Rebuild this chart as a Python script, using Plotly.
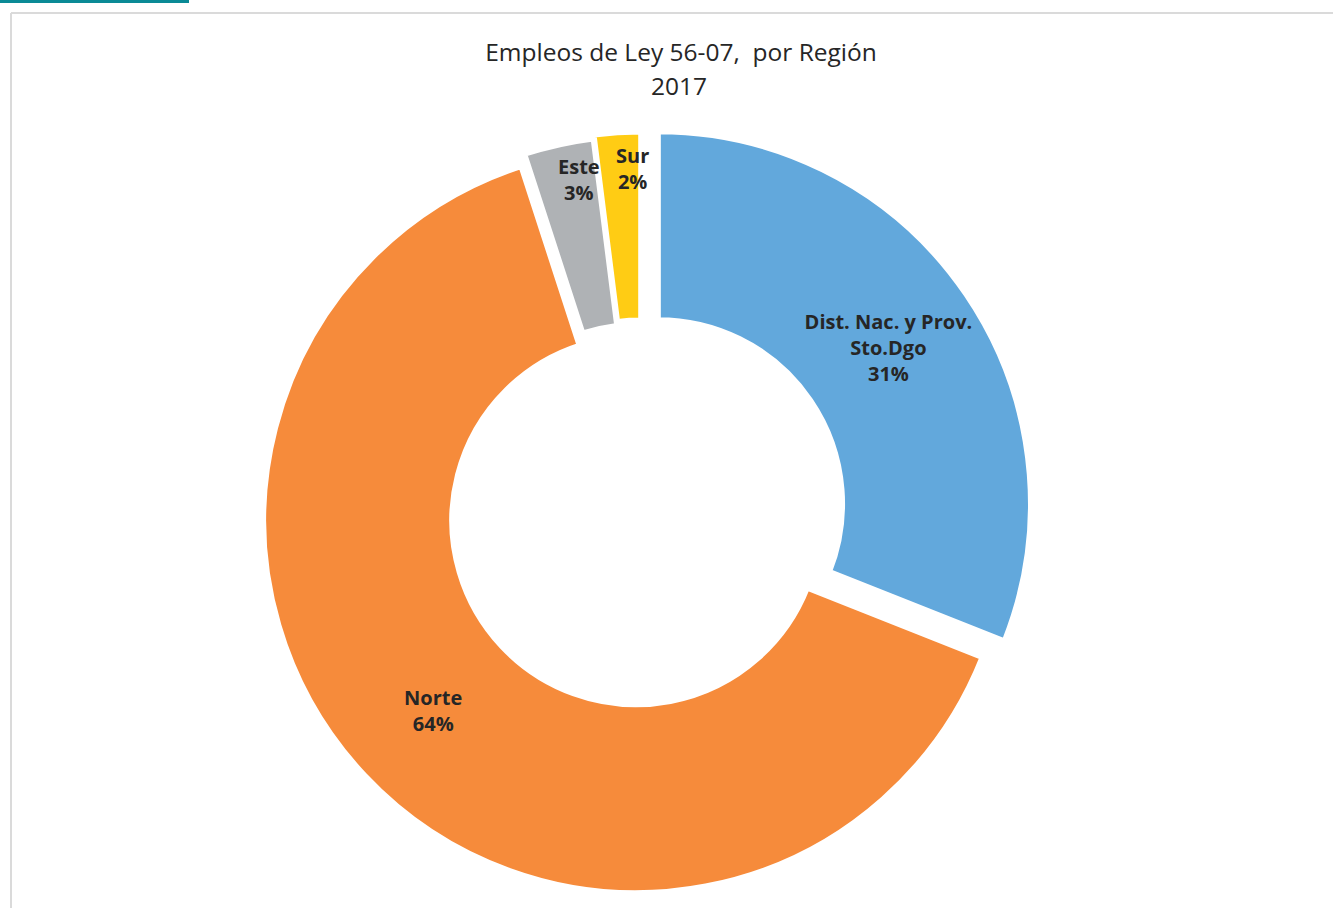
import math
import plotly.graph_objects as go

# ---- data ----
regions = ["Dist. Nac. y Prov.<br>Sto.Dgo", "Norte", "Este", "Sur"]
shares = [31, 64, 3, 2]
colors = ["#62A8DC", "#F68B3B", "#AFB2B5", "#FFCC14"]
pulls = [0.055, 0.02, 0.02, 0.03]
title_line1 = "Empleos de Ley 56-07,\u00a0 por Región"
title_line2 = "2017"

W, H = 1333, 908
TEXT_COLOR = "#262626"
FONT = "Open Sans"

# pie domain (paper coords, margins are zero)
dom_x = [0.18665, 0.77570]
dom_y = [0.0, 0.8648]

inside = ["inside", "inside", "none", "none"]

fig = go.Figure()
fig.add_trace(go.Pie(
    labels=regions,
    values=shares,
    sort=False,
    direction="clockwise",
    rotation=0,
    hole=0.495,
    pull=pulls,
    marker=dict(colors=colors, line=dict(color="white", width=5)),
    texttemplate="<b>%{label}<br>%{percent:.0%}</b>",
    textposition=inside,
    insidetextorientation="horizontal",
    textfont=dict(family=FONT, size=20, color=TEXT_COLOR),
    hoverinfo="label+percent",
    showlegend=False,
    domain=dict(x=dom_x, y=dom_y),
))

# geometry of the pie in pixels (as plotly computes it)
avail_w = W * (dom_x[1] - dom_x[0])
avail_h = H * (dom_y[1] - dom_y[0])
R = min(avail_w, avail_h) / 2 / (1 + max(pulls))
CX = W * (dom_x[0] + dom_x[1]) / 2
CY = H * (1 - dom_y[0]) - avail_h / 2

total = sum(shares)
annotations = []
cum = 0
for lab, v, p, pos in zip(regions, shares, pulls, inside):
    mid = (cum + v / 2) / total
    cum += v
    if pos != "none":
        continue
    th = 2 * math.pi * mid
    rr = R * (0.905 + p)
    px = CX + rr * math.sin(th)
    py = CY - rr * math.cos(th)
    annotations.append(dict(
        x=px / W, y=1 - py / H, xref="paper", yref="paper",
        text=f"<b>{lab}<br>{round(100 * v / total)}%</b>",
        showarrow=False, xshift=13,
        font=dict(family=FONT, size=20, color=TEXT_COLOR),
        xanchor="center", yanchor="middle",
    ))

annotations.append(dict(
    x=679 / W, y=1 - 85 / H, xref="paper", yref="paper",
    text=title_line2, showarrow=False,
    font=dict(family=FONT, size=24.5, color="#262626"),
    xanchor="center", yanchor="middle",
))

fig.update_layout(
    width=W, height=H,
    margin=dict(l=0, r=0, t=0, b=0),
    paper_bgcolor="white", plot_bgcolor="white",
    title=dict(text=title_line1, x=681 / W, xanchor="center",
               y=1 - 52 / H, yanchor="middle",
               font=dict(family=FONT, size=24.5, color="#262626")),
    annotations=annotations,
    shapes=[
        dict(type="rect", xref="paper", yref="paper",
             x0=0, x1=189 / W, y0=1, y1=1 - 3 / H,
             fillcolor="#0A8A96", line=dict(width=0)),
        dict(type="line", xref="paper", yref="paper",
             x0=11 / W, x1=1, y0=1 - 13 / H, y1=1 - 13 / H,
             line=dict(color="#DADADA", width=2)),
        dict(type="line", xref="paper", yref="paper",
             x0=11 / W, x1=11 / W, y0=1 - 13 / H, y1=0,
             line=dict(color="#DADADA", width=2)),
    ],
)

fig.write_html("out.html",
               config={"displayModeBar": False},
               post_script="document.body.style.margin='0px';")
